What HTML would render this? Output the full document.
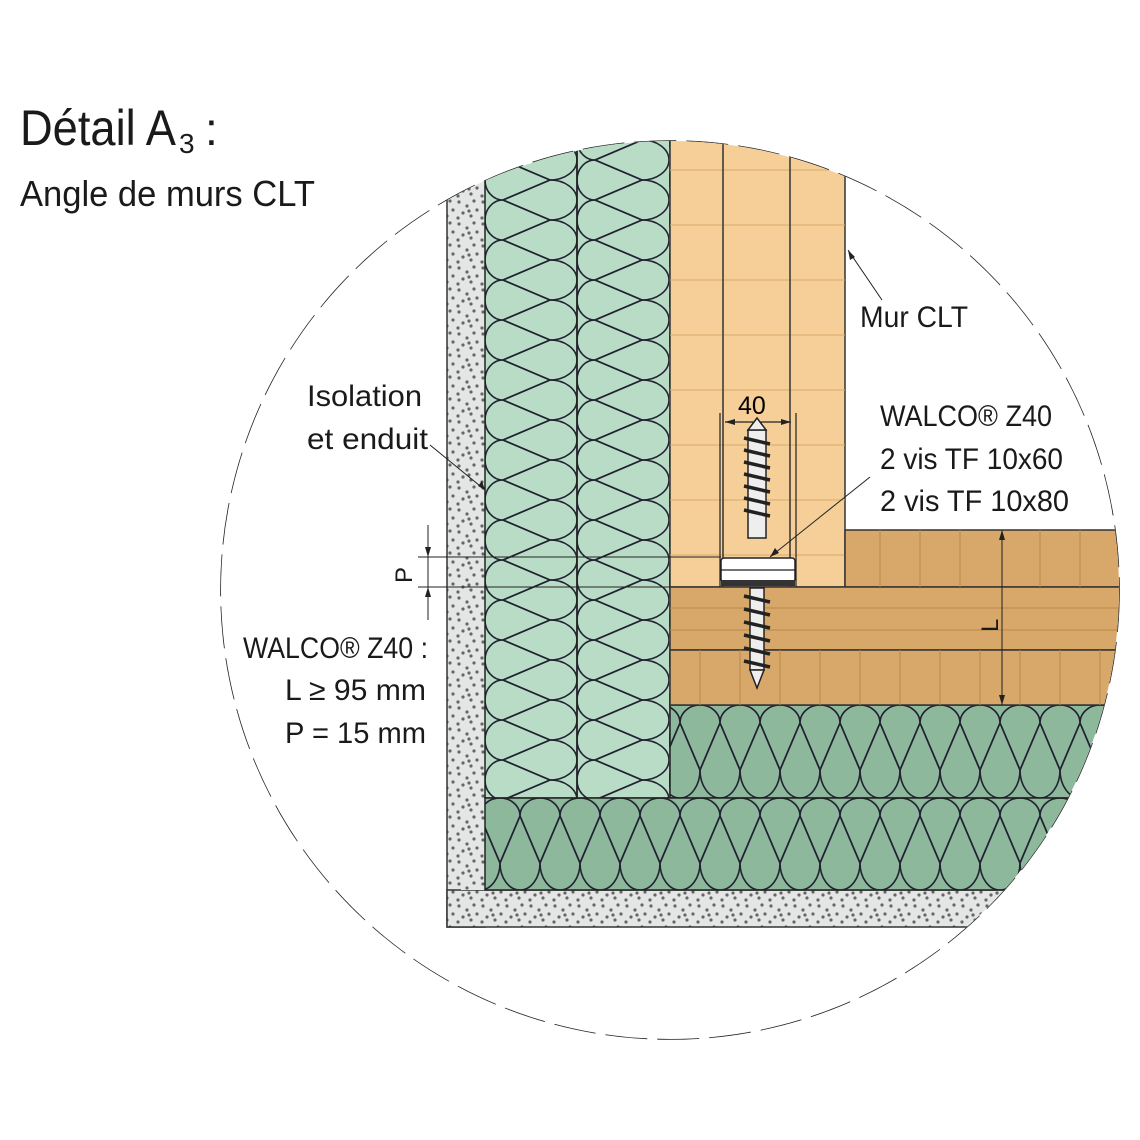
<!DOCTYPE html>
<html><head><meta charset="utf-8"><style>html,body{margin:0;padding:0;background:#fff}svg{display:block}</style></head>
<body>
<svg width="1140" height="1140" viewBox="0 0 1140 1140" xmlns="http://www.w3.org/2000/svg" font-family="Liberation Sans, sans-serif">
<defs>
<clipPath id="c"><circle cx="670" cy="590" r="449"/></clipPath>
<pattern id="iv" x="485" y="0" width="92" height="40" patternUnits="userSpaceOnUse">
<rect width="92" height="40" fill="#b9dcc6"/>
<g fill="none" stroke="#223" stroke-width="1.6">
<path d="M18,0 A18,20 0 0 0 18,40 L65,20 Z"/>
<path d="M65,-20 A27,20 0 0 1 65,20 L18,0 Z"/>
<path d="M65,20 A27,20 0 0 1 65,60 L18,40 Z"/>
</g></pattern>
<pattern id="ih" x="0" y="705" width="40" height="93" patternUnits="userSpaceOnUse">
<rect width="40" height="93" fill="#8db89c"/>
<g fill="none" stroke="#223" stroke-width="1.6">
<path d="M0,18 A20,18 0 0 1 40,18 L20,65 Z"/>
<path d="M-20,65 A20,28 0 0 0 20,65 L0,18 Z"/>
<path d="M20,65 A20,28 0 0 0 60,65 L40,18 Z"/>
</g></pattern>
<pattern id="ih2" x="0" y="798" width="40" height="92" patternUnits="userSpaceOnUse">
<rect width="40" height="92" fill="#8db89c"/>
<g fill="none" stroke="#223" stroke-width="1.6">
<path d="M0,18 A20,18 0 0 1 40,18 L20,65 Z"/>
<path d="M-20,65 A20,27 0 0 0 20,65 L0,18 Z"/>
<path d="M20,65 A20,27 0 0 0 60,65 L40,18 Z"/>
</g></pattern>
<pattern id="dots" width="24" height="22" patternUnits="userSpaceOnUse">
<rect width="24" height="22" fill="#e4e6e6"/>
<g fill="#666"><circle cx="3" cy="4" r="1.6"/><circle cx="11" cy="8" r="1.6"/><circle cx="18" cy="3" r="1.6"/><circle cx="7" cy="15" r="1.6"/><circle cx="15" cy="18" r="1.6"/><circle cx="21" cy="12" r="1.6"/><circle cx="2" cy="20" r="1.6"/><circle cx="13" cy="13" r="1.6"/></g></pattern>
</defs>
<circle cx="670" cy="590" r="449" fill="none" stroke="#222" stroke-width="1.6" stroke-dasharray="42 10"/>
<g clip-path="url(#c)">
<rect x="200" y="100" width="1000" height="1000" fill="#fff"/>
<rect x="447" y="100" width="38" height="827" fill="url(#dots)" stroke="#333" stroke-width="1.5"/>
<rect x="447" y="890" width="700" height="37" fill="url(#dots)" stroke="#333" stroke-width="1.5"/>
<rect x="461" y="100" width="24" height="790" fill="url(#dots)"/>
<rect x="485" y="100" width="185" height="698" fill="url(#iv)" stroke="#222" stroke-width="1.5"/>
<line x1="577" y1="100" x2="577" y2="798" stroke="#222" stroke-width="1.8"/>
<rect x="670" y="705" width="500" height="93" fill="url(#ih)" stroke="#222" stroke-width="1.5"/>
<rect x="485" y="798" width="700" height="92" fill="url(#ih2)" stroke="#222" stroke-width="1.5"/>
<rect x="670" y="100" width="175" height="487" fill="#f6cf98" stroke="#333" stroke-width="1.5"/>
<g stroke="#d8a868" stroke-width="1"><line x1="670" y1="170" x2="845" y2="170"/><line x1="670" y1="225" x2="845" y2="225"/><line x1="670" y1="280" x2="845" y2="280"/><line x1="670" y1="335" x2="845" y2="335"/><line x1="670" y1="390" x2="845" y2="390"/><line x1="670" y1="445" x2="845" y2="445"/><line x1="670" y1="500" x2="845" y2="500"/><line x1="670" y1="555" x2="845" y2="555"/></g>
<line x1="723" y1="100" x2="723" y2="587" stroke="#333" stroke-width="1.5"/>
<line x1="790" y1="100" x2="790" y2="587" stroke="#333" stroke-width="1.5"/>
<rect x="845" y="530" width="320" height="57" fill="#d7a869" stroke="#333" stroke-width="1.5"/>
<rect x="670" y="587" width="500" height="63" fill="#d7a869" stroke="#333" stroke-width="1.5"/>
<rect x="670" y="650" width="500" height="55" fill="#d7a869" stroke="#333" stroke-width="1.5"/>
<g stroke="#b88848" stroke-width="1">
<line x1="670" y1="608" x2="1170" y2="608"/><line x1="670" y1="630" x2="1170" y2="630"/>
<line x1="880" y1="530" x2="880" y2="587"/><line x1="920" y1="530" x2="920" y2="587"/><line x1="960" y1="530" x2="960" y2="587"/><line x1="1040" y1="530" x2="1040" y2="587"/><line x1="1080" y1="530" x2="1080" y2="587"/>
<line x1="700" y1="650" x2="700" y2="705"/><line x1="740" y1="650" x2="740" y2="705"/><line x1="780" y1="650" x2="780" y2="705"/><line x1="820" y1="650" x2="820" y2="705"/><line x1="860" y1="650" x2="860" y2="705"/><line x1="900" y1="650" x2="900" y2="705"/><line x1="940" y1="650" x2="940" y2="705"/><line x1="980" y1="650" x2="980" y2="705"/><line x1="1020" y1="650" x2="1020" y2="705"/><line x1="1060" y1="650" x2="1060" y2="705"/><line x1="1100" y1="650" x2="1100" y2="705"/>
</g>
</g>
<g stroke="#222" stroke-width="1.2" fill="none">
<line x1="720" y1="413" x2="720" y2="587"/><line x1="796" y1="413" x2="796" y2="587"/>
<line x1="725" y1="422" x2="791" y2="422"/>
</g>
<path d="M725,422 l10,-3 v6z M791,422 l-10,-3 v6z" fill="#222"/>
<text x="738" y="414" font-size="25">40</text>
<rect x="748" y="430" width="18" height="108" fill="#eee" stroke="#222" stroke-width="1.5"/>
<path d="M748,430 L757,418 L766,430Z" fill="#eee" stroke="#222" stroke-width="1.5"/>
<rect x="750" y="588" width="14" height="82" fill="#eee" stroke="#222" stroke-width="1.5"/>
<g stroke="#222" stroke-width="3.5">
<line x1="744" y1="438" x2="770" y2="444"/><line x1="744" y1="450" x2="770" y2="456"/><line x1="744" y1="462" x2="770" y2="468"/><line x1="744" y1="474" x2="770" y2="480"/><line x1="744" y1="486" x2="770" y2="492"/><line x1="744" y1="498" x2="770" y2="504"/><line x1="744" y1="510" x2="770" y2="516"/>
<line x1="744" y1="596" x2="770" y2="602"/><line x1="744" y1="609" x2="770" y2="615"/><line x1="744" y1="622" x2="770" y2="628"/><line x1="744" y1="635" x2="770" y2="641"/><line x1="744" y1="648" x2="770" y2="654"/><line x1="744" y1="661" x2="770" y2="667"/>
</g>
<path d="M750,670 L757,688 L764,670Z" fill="#eee" stroke="#222" stroke-width="1.5"/>
<rect x="721" y="558" width="74" height="24" rx="3" fill="#fff" stroke="#222" stroke-width="1.5"/>
<line x1="721" y1="570" x2="795" y2="570" stroke="#222" stroke-width="1.2"/>
<rect x="721" y="580" width="74" height="6" fill="#333"/>
<g stroke="#222" stroke-width="1">
<line x1="418" y1="557" x2="721" y2="557"/><line x1="418" y1="587" x2="670" y2="587"/>
<line x1="428" y1="525" x2="428" y2="620"/>
<line x1="1002" y1="530" x2="1002" y2="705"/>
<line x1="770" y1="557" x2="870" y2="477"/>
<line x1="882" y1="300" x2="848" y2="250"/>
<line x1="485" y1="490" x2="430" y2="445"/>
</g>
<path d="M428,557 l-3,-10 h6z M428,587 l-3,10 h6z M1002,530 l-3,10 h6z M1002,705 l-3,-10 h6z M770,557 l5,-9 l4,5z M848,250 l2,10 l5,-3z M485,490 l-3,-9 l-4,5z" fill="#222"/>
<g fill="#1a1a1a">
<text x="20" y="145" font-size="50" textLength="156" lengthAdjust="spacingAndGlyphs">Détail A</text>
<text x="179" y="153" font-size="28">3</text>
<text x="205" y="145" font-size="46">:</text>
<text x="20" y="206" font-size="36" textLength="295" lengthAdjust="spacingAndGlyphs">Angle de murs CLT</text>
<text x="860" y="327" font-size="30" textLength="108" lengthAdjust="spacingAndGlyphs">Mur CLT</text>
<text x="307" y="406" font-size="30" textLength="115" lengthAdjust="spacingAndGlyphs">Isolation</text>
<text x="307" y="449" font-size="30" textLength="121" lengthAdjust="spacingAndGlyphs">et enduit</text>
<text x="880" y="426" font-size="30" textLength="172" lengthAdjust="spacingAndGlyphs">WALCO® Z40</text>
<text x="880" y="469" font-size="30" textLength="183" lengthAdjust="spacingAndGlyphs">2 vis TF 10x60</text>
<text x="880" y="511" font-size="30" textLength="189" lengthAdjust="spacingAndGlyphs">2  vis TF 10x80</text>
<text x="243" y="658" font-size="30" textLength="185" lengthAdjust="spacingAndGlyphs">WALCO® Z40 :</text>
<text x="285" y="700" font-size="30" textLength="141" lengthAdjust="spacingAndGlyphs">L ≥ 95 mm</text>
<text x="285" y="743" font-size="30" textLength="141" lengthAdjust="spacingAndGlyphs">P = 15 mm</text>
<text x="0" y="0" font-size="24" transform="translate(412,583) rotate(-90)">P</text>
<text x="0" y="0" font-size="24" transform="translate(998,632) rotate(-90)">L</text>
</g>
</svg>
</body></html>
